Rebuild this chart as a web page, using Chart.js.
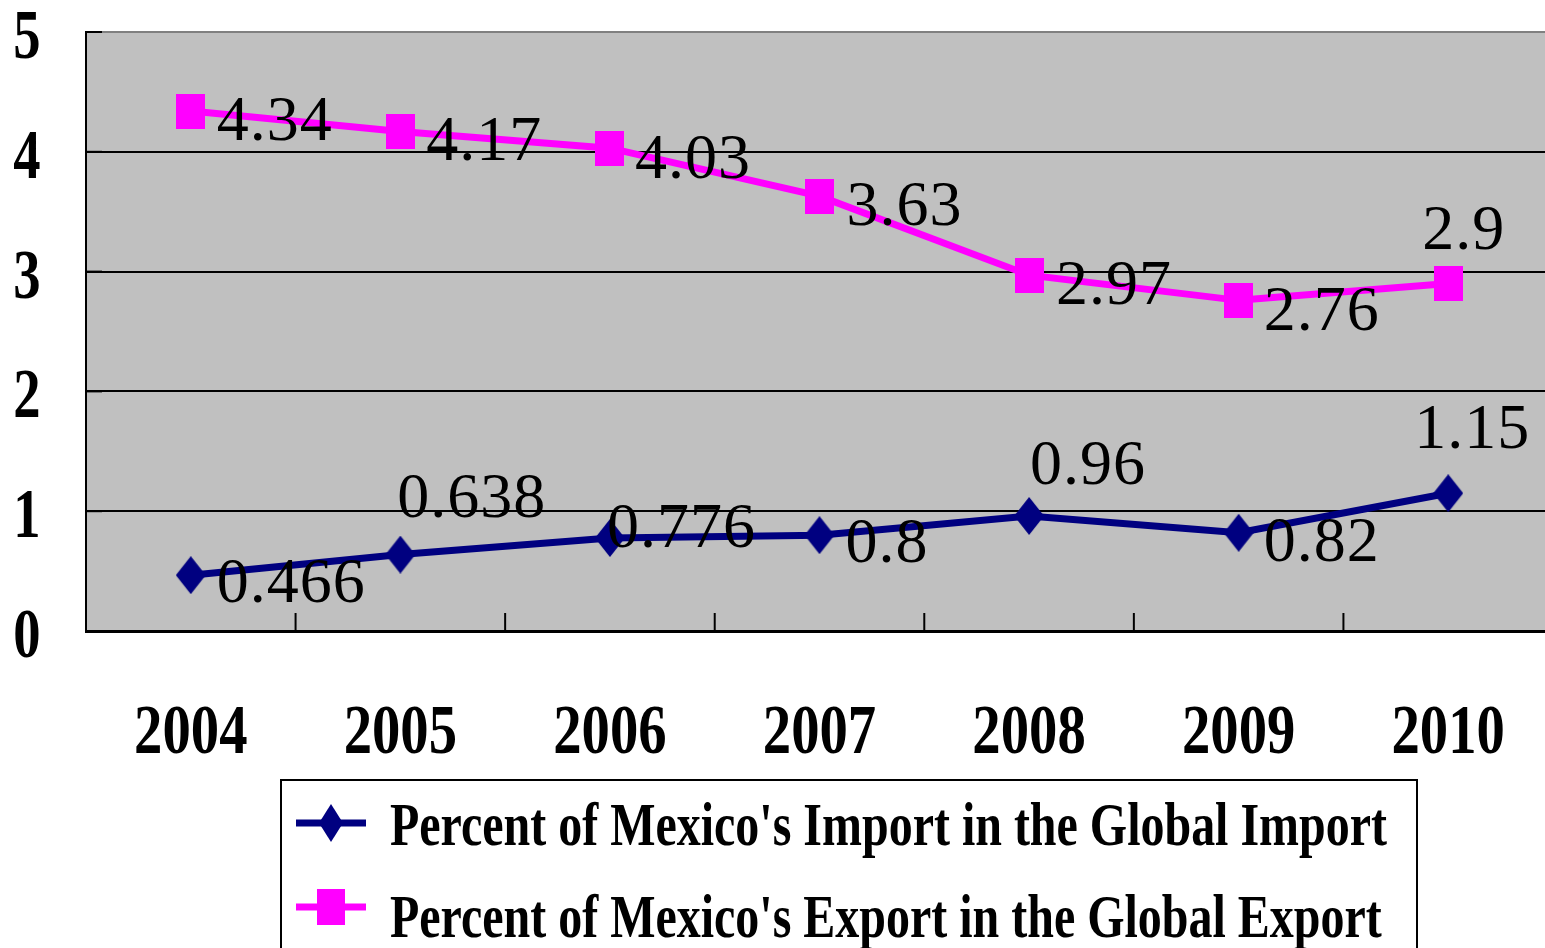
<!DOCTYPE html>
<html><head><meta charset="utf-8">
<script src="https://cdn.jsdelivr.net/npm/chart.js@4.4.0/dist/chart.umd.min.js"></script>
<style>html,body{margin:0;padding:0;overflow:hidden;background:#fff}canvas{display:block}</style>
</head><body>
<canvas id="c" width="1575" height="948" style="width:1575px;height:948px"></canvas>
<script>
// ---- data ----
const years = ['2004','2005','2006','2007','2008','2009','2010'];
const importShare = [0.466, 0.638, 0.776, 0.8, 0.96, 0.82, 1.15];
const exportShare = [4.34, 4.17, 4.03, 3.63, 2.97, 2.76, 2.9];
const importLabels = ['0.466','0.638','0.776','0.8','0.96','0.82','1.15'];
const exportLabels = ['4.34','4.17','4.03','3.63','2.97','2.76','2.9'];
const yTickValues = [0, 1, 2, 3, 4, 5];
const seriesNames = ["Percent of Mexico's Import in the Global Import",
                     "Percent of Mexico's Export in the Global Export"];

// ---- styles ----
const NAVY = '#000080', MAGENTA = '#FF00FF', PLOT_BG = '#C0C0C0';
const SERIF = '"Liberation Serif","Times New Roman",serif';

function makeDiamond(w, h, color) {
  const c = document.createElement('canvas'); c.width = w; c.height = h;
  const g = c.getContext('2d'); g.fillStyle = color; g.beginPath();
  g.moveTo(w/2, 0); g.lineTo(w, h/2); g.lineTo(w/2, h); g.lineTo(0, h/2); g.closePath(); g.fill();
  return c;
}
function makeRect(w, h, color) {
  const c = document.createElement('canvas'); c.width = w; c.height = h;
  const g = c.getContext('2d'); g.fillStyle = color; g.fillRect(0, 0, w, h);
  return c;
}
const diamondImg = makeDiamond(30, 38, NAVY);
const squareImg = makeRect(29, 35, MAGENTA);

function condensedText(ctx, text, x, y, sx, align) {
  ctx.save(); ctx.translate(x, y); ctx.scale(sx, 1);
  ctx.textAlign = align; ctx.textBaseline = 'alphabetic';
  ctx.fillText(text, 0, 0); ctx.restore();
}

const decorPlugin = {
  id: 'decor',
  beforeDraw(chart) {
    const {ctx, chartArea: a} = chart;
    ctx.save(); ctx.fillStyle = PLOT_BG;
    ctx.fillRect(a.left, a.top, a.right - a.left, a.bottom - a.top);
    ctx.restore();
  },
  afterDraw(chart, args, opts) {
    const {ctx, chartArea: a, scales: {x, y}} = chart;
    ctx.save();
    // inward ticks on x axis at category boundaries
    ctx.strokeStyle = '#000'; ctx.lineWidth = 2;
    for (let i = 1; i < years.length; i++) {
      const bx = (x.getPixelForValue(i - 1) + x.getPixelForValue(i)) / 2;
      ctx.beginPath(); ctx.moveTo(bx, a.bottom - 18); ctx.lineTo(bx, a.bottom); ctx.stroke();
    }
    // inward ticks on y axis
    yTickValues.forEach(v => {
      const py = y.getPixelForValue(v);
      ctx.beginPath(); ctx.moveTo(a.left, py); ctx.lineTo(a.left + 16, py); ctx.stroke();
    });
    // y tick labels
    ctx.fillStyle = '#000';
    ctx.font = 'bold 70px ' + SERIF;
    yTickValues.forEach(v => {
      condensedText(ctx, String(v), 27, y.getPixelForValue(v) + 26, 0.78, 'center');
    });
    // x tick labels
    years.forEach((yr, i) => {
      condensedText(ctx, yr, x.getPixelForValue(i), 753, 0.81, 'center');
    });
    // data labels
    ctx.font = '64px ' + SERIF;
    ctx.letterSpacing = '1px';
    const sets = [[0, importLabels, opts.importOffsets], [1, exportLabels, opts.exportOffsets]];
    sets.forEach(([di, labels, offs]) => {
      const meta = chart.getDatasetMeta(di);
      meta.data.forEach((pt, i) => {
        condensedText(ctx, labels[i], pt.x + offs[i][0], pt.y + offs[i][1], 1, 'left');
      });
    });
    ctx.letterSpacing = '0px';
    // legend
    const L = opts.legend;
    ctx.strokeStyle = '#000'; ctx.lineWidth = 2;
    ctx.strokeRect(L.left, L.top, L.right - L.left, 300);
    ctx.font = 'bold 62px ' + SERIF;
    const sx = L.textWidth / ctx.measureText(seriesNames[0]).width;
    const colors = [NAVY, MAGENTA];
    L.rows.forEach((ry, i) => {
      ctx.strokeStyle = colors[i]; ctx.lineWidth = 7;
      ctx.beginPath(); ctx.moveTo(L.lineX0, ry); ctx.lineTo(L.lineX1, ry); ctx.stroke();
      ctx.fillStyle = colors[i];
      const cx = (L.lineX0 + L.lineX1) / 2;
      if (i === 0) {
        ctx.beginPath(); ctx.moveTo(cx, ry - 19); ctx.lineTo(cx + 12, ry); ctx.lineTo(cx, ry + 19); ctx.lineTo(cx - 12, ry); ctx.closePath(); ctx.fill();
      } else {
        ctx.fillRect(cx - 14, ry - 18, 28, 36);
      }
      ctx.fillStyle = '#000';
      condensedText(ctx, seriesNames[i], L.textX, L.baselines[i], sx, 'left');
    });
    ctx.restore();
  }
};

new Chart(document.getElementById('c'), {
  type: 'line',
  data: {
    labels: years,
    datasets: [
      { label: seriesNames[0], data: importShare, borderColor: NAVY, backgroundColor: NAVY,
        borderWidth: 7, pointStyle: diamondImg, pointRadius: 15, tension: 0 },
      { label: seriesNames[1], data: exportShare, borderColor: MAGENTA, backgroundColor: MAGENTA,
        borderWidth: 7, pointStyle: squareImg, pointRadius: 15, tension: 0 }
    ]
  },
  options: {
    responsive: false, animation: false, events: [],
    layout: { padding: { left: 86, top: 32, right: 5, bottom: 317 } },
    plugins: {
      legend: { display: false }, tooltip: { enabled: false },
      decor: {
        importOffsets: [[26,27],[-3,-38],[-3,9],[26,27],[1,-32],[25,28],[-34,-45]],
        exportOffsets: [[26,29],[26,29],[25,30],[27,29],[27,29],[25,30],[-26,-35]],
        legend: { left: 281, top: 780, right: 1417, lineX0: 296, lineX1: 366,
                  rows: [823, 907], textX: 390, baselines: [845, 937], textWidth: 997 }
      }
    },
    scales: {
      x: { type: 'category', offset: true,
           grid: { display: false, drawTicks: false },
           ticks: { display: false },
           border: { display: true, color: '#000', width: 3 } },
      y: { min: 0, max: 5,
           ticks: { display: false, stepSize: 1 },
           grid: { drawTicks: false, lineWidth: 2,
                   color: c => (c.tick && c.tick.value === 5) ? '#808080' : '#000' },
           border: { display: true, color: '#000', width: 2 } }
    }
  },
  plugins: [decorPlugin]
});
</script>
</body></html>
